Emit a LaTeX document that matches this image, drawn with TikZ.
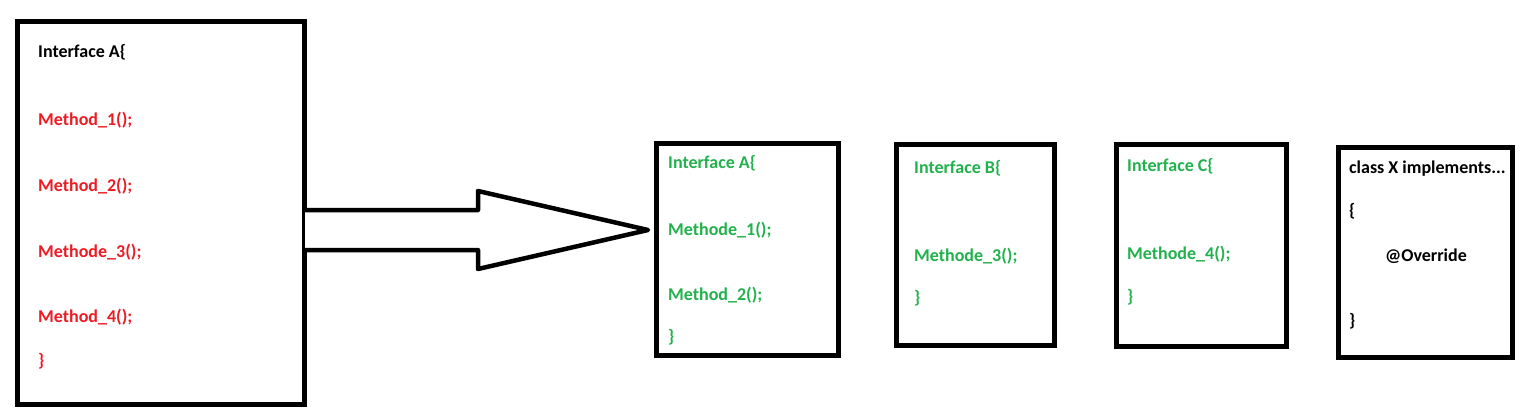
\documentclass[tikz,border=0pt]{standalone}
\usepackage{fontspec}
\setmainfont{Carlito}
\definecolor{pred}{RGB}{237,28,36}
\definecolor{pgreen}{RGB}{34,177,76}
\tikzset{
  box/.style={draw=black, line width=5pt, rectangle, inner sep=0pt, fill=white},
  code/.style={anchor=base west, inner sep=0pt, font=\fontsize{18}{20}\selectfont\bfseries},
  redcode/.style={code, text=pred},
  greencode/.style={code, text=pgreen},
  blackcode/.style={code, text=black},
  bigarrow/.style={draw=black, line width=4.5pt, line join=round, fill=white}
}
\begin{document}
\begin{tikzpicture}[x=1pt,y=-1pt]
\useasboundingbox (0,0) rectangle (1539,420);
% boxes
\node[box, minimum width=287pt, minimum height=383pt] (big) at (161,213) {};
\node[box, minimum width=182pt, minimum height=212pt] (ia) at (747.5,249.5) {};
\node[box, minimum width=158pt, minimum height=201pt] (ib) at (975.5,245) {};
\node[box, minimum width=170pt, minimum height=202.5pt] (ic) at (1201.5,245.25) {};
\node[box, minimum width=174pt, minimum height=210pt] (cx) at (1425.5,252.5) {};
% arrow
\coordinate (as1) at (305,210);
\coordinate (as2) at (305,250);
\coordinate (tip) at (648,230);
\draw[bigarrow] (as1) -- (478,210) -- (478,191) -- (tip) -- (478,269) -- (478,250) -- (as2);
% big box text
\node[blackcode] (t0) at (38,58) {Interface A\{};
\node[redcode] (t1) at (38,125) {Method\_1();};
\node[redcode] (t2) at (38,191) {Method\_2();};
\node[redcode] (t3) at (38,257) {Methode\_3();};
\node[redcode] (t4) at (38,322) {Method\_4();};
\node[redcode] (t5) at (38,366) {\}};
% interface A
\node[greencode] (a0) at (668,168) {Interface A\{};
\node[greencode] (a1) at (668,235) {Methode\_1();};
\node[greencode] (a2) at (668,300) {Method\_2();};
\node[greencode] (a3) at (668,342) {\}};
% interface B
\node[greencode] (b0) at (914,173) {Interface B\{};
\node[greencode] (b1) at (914,261) {Methode\_3();};
\node[greencode] (b2) at (914,303) {\}};
% interface C
\node[greencode] (c0) at (1127,171) {Interface C\{};
\node[greencode] (c1) at (1127,259) {Methode\_4();};
\node[greencode] (c2) at (1127,302) {\}};
% class X
\node[blackcode] (x0) at (1349,173) {class X implements...};
\node[blackcode] (x1) at (1349,216) {\{};
\node[blackcode] (x2) at (1385,261) {@Override};
\node[blackcode] (x3) at (1349,326) {\}};
\end{tikzpicture}
\end{document}
